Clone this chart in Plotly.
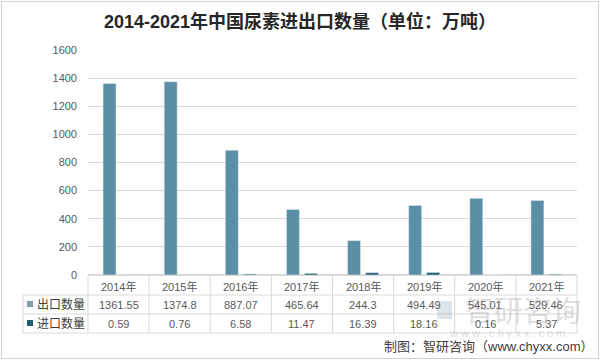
import plotly.graph_objects as go

years = ["2014年", "2015年", "2016年", "2017年", "2018年", "2019年", "2020年", "2021年"]
export_vals = [1361.55, 1374.8, 887.07, 465.64, 244.3, 494.49, 545.01, 529.46]
import_vals = [0.59, 0.76, 6.58, 11.47, 16.39, 18.16, 0.16, 5.37]
export_labels = ["1361.55", "1374.8", "887.07", "465.64", "244.3", "494.49", "545.01", "529.46"]
import_labels = ["0.59", "0.76", "6.58", "11.47", "16.39", "18.16", "0.16", "5.37"]
series_names = ["出口数量", "进口数量"]
y_ticks = [0, 200, 400, 600, 800, 1000, 1200, 1400, 1600]

EXP_COLOR = "#5A8FA5"
IMP_COLOR = "#1E5F70"
TXT = "#595959"
GRID = "#D9D9D9"
FONT = "Liberation Sans, Noto Sans CJK SC"

W, H = 600, 360
L, R, T, B = 88, 577, 50, 275
PW, PH = R - L, B - T


def px(p):
    return (p - L) / PW


def py(p):
    return (B - p) / PH


fig = go.Figure()
fig.add_trace(go.Bar(x=years, y=export_vals, name=series_names[0], marker_color=EXP_COLOR, hoverinfo="skip"))
fig.add_trace(go.Bar(x=years, y=import_vals, name=series_names[1], marker_color=IMP_COLOR, hoverinfo="skip"))

shapes = []
annotations = []
line_c = "#D9D9D9"
# table horizontal lines
for yy in [295, 314, 333]:
    shapes.append(dict(type="line", xref="paper", yref="paper", x0=px(23), x1=px(R), y0=py(yy), y1=py(yy),
                       line=dict(color=line_c, width=1)))
# table vertical lines
n = len(years)
for k in range(n + 1):
    shapes.append(dict(type="line", xref="paper", yref="paper", x0=k / n, x1=k / n, y0=py(275), y1=py(333),
                       line=dict(color=line_c, width=1)))
shapes.append(dict(type="line", xref="paper", yref="paper", x0=px(23), x1=px(23), y0=py(295), y1=py(333),
                   line=dict(color=line_c, width=1)))
# outer frame
shapes.append(dict(type="rect", xref="paper", yref="paper", x0=px(1.5), x1=px(598.5), y0=py(1.5), y1=py(358.5),
                   line=dict(color="#D0D0D0", width=1), fillcolor="rgba(0,0,0,0)"))
# legend keys
for yy, c in [(304, "#7F9FA3"), (323, IMP_COLOR)]:
    shapes.append(dict(type="rect", xref="paper", yref="paper", x0=px(27), x1=px(33), y0=py(yy - 3), y1=py(yy + 3),
                       line=dict(width=0), fillcolor=c))
# watermark logo
shapes.append(dict(type="rect", xref="paper", yref="paper", x0=px(437), x1=px(452), y0=py(319), y1=py(301),
                   line=dict(width=0), fillcolor="rgba(120,150,170,0.25)", layer="above"))


def ann(x, y, text, size, color, xref="paper", xanchor="center", family=FONT):
    annotations.append(dict(x=x, y=y, xref=xref, yref="paper", text=text, showarrow=False,
                            xanchor=xanchor, yanchor="middle",
                            font=dict(family=family, size=size, color=color)))


for i, yr in enumerate(years):
    ann(yr, py(286), yr, 11, TXT, xref="x")
    ann(yr, py(304.5), export_labels[i], 11, TXT, xref="x")
    ann(yr, py(323.5), import_labels[i], 11, TXT, xref="x")

ann(px(35), py(304), series_names[0], 12, "#404040", xanchor="left")
ann(px(35), py(323), series_names[1], 12, "#404040", xanchor="left")

# watermark
ann(px(523), py(309), "智研咨询", 29, "rgba(140,140,140,0.3)", family="Noto Sans CJK SC")
ann(px(507), py(333), "w w w . c h y x x . c o m", 11, "rgba(140,140,140,0.3)")
# source
ann(px(595), py(346), "制图：智研咨询（www.chyxx.com）", 13, "#404040", xanchor="right")

fig.update_layout(
    width=W, height=H,
    margin=dict(l=L, r=W - R, t=T, b=H - B, pad=0, autoexpand=False),
    paper_bgcolor="white", plot_bgcolor="white",
    barmode="group", bargap=0.41, bargroupgap=0.28,
    showlegend=False, hovermode=False,
    title=dict(text="2014-2021年中国尿素进出口数量（单位：万吨）", x=0.5, xanchor="center", y=1 - 22 / H,
               yanchor="middle", font=dict(family=FONT, size=18, color="#262626", weight="bold")),
    xaxis=dict(showticklabels=False, showgrid=False, zeroline=False, showline=False, ticks="", automargin=False),
    yaxis=dict(range=[0, 1600], tickvals=y_ticks, showgrid=True, gridcolor=GRID, gridwidth=1,
               zeroline=True, zerolinecolor=GRID, showline=False, ticks="", ticklen=0, automargin=False,
               tickfont=dict(family=FONT, size=11, color=TXT), ticklabelstandoff=10),
    shapes=shapes, annotations=annotations,
)

fig.write_html("out.html", config={"displayModeBar": False, "staticPlot": True},
               post_script="document.body.style.margin='0';document.body.style.overflow='hidden';")
